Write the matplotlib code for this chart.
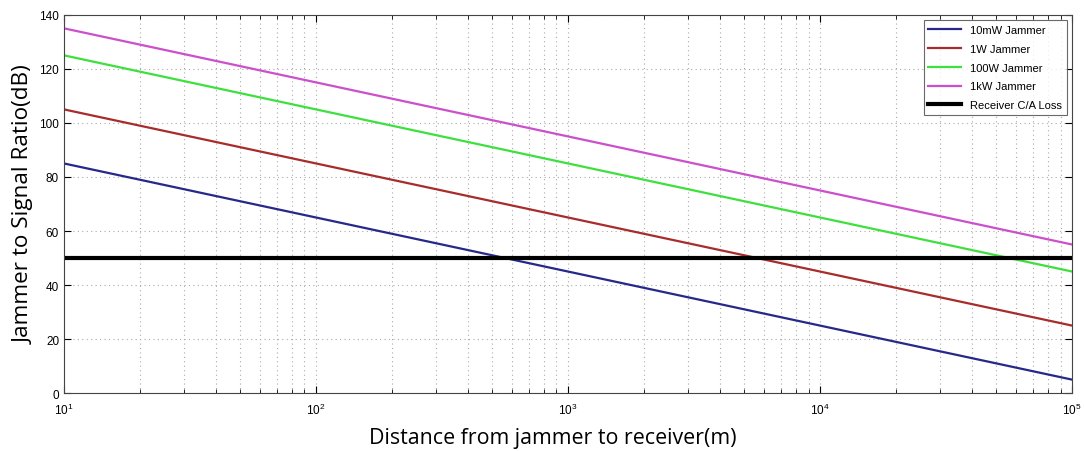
import numpy as np
import matplotlib
matplotlib.use("Agg")
import matplotlib.pyplot as plt
from matplotlib.ticker import LogLocator

# Distance endpoints (m) and J/S values (dB) at those endpoints
distance = [10, 100000]
js_10mw = [85, 5]
js_1w = [105, 25]
js_100w = [125, 45]
js_1kw = [135, 55]
ca_loss = [50, 50]

series = [
    ("10mW Jammer", js_10mw, "#27288a"),
    ("1W Jammer", js_1w, "#a82c2c"),
    ("100W Jammer", js_100w, "#3ee03e"),
    ("1kW Jammer", js_1kw, "#cc4fcc"),
]

fig = plt.figure(figsize=(10.84, 4.52), dpi=100)
ax = fig.add_axes([0.059, 0.128, 0.930, 0.837])

for label, vals, col in series:
    ax.plot(distance, vals, color=col, lw=1.6, label=label)
ax.plot(distance, ca_loss, color="black", lw=3.0, label="Receiver C/A Loss")

ax.set_xscale("log")
ax.set_xlim(10, 1e5)
ax.set_ylim(0, 140)
ax.set_yticks(np.arange(0, 141, 20))
ax.xaxis.set_major_locator(LogLocator(base=10, numticks=10))
ax.xaxis.set_minor_locator(LogLocator(base=10, subs=np.arange(2, 10), numticks=20))

ax.grid(True, which="major", axis="both", ls=(0, (1, 3)), color="#aaaaaa", lw=0.8)
ax.grid(True, which="minor", axis="x", ls=(0, (1, 3)), color="#aaaaaa", lw=0.8)
ax.tick_params(which="both", direction="in", top=True, right=True, labelsize=8.5)
ax.tick_params(which="major", length=5)
ax.tick_params(which="minor", length=3)
ax.tick_params(axis="x", pad=6)
for lab in ax.get_xticklabels() + ax.get_yticklabels():
    lab.set_fontfamily("Liberation Sans")
for s in ax.spines.values():
    s.set_color("#444444")

ax.set_xlabel("Distance from jammer to receiver(m)", fontsize=15.4, family="Open Sans", va="center")
ax.xaxis.set_label_coords(0.485, -0.118)
ax.set_ylabel("Jammer to Signal Ratio(dB)", fontsize=16.2, family="Open Sans", labelpad=3)

leg = ax.legend(loc="upper right", prop={"family": "Liberation Sans", "size": 8},
                frameon=True, fancybox=False, edgecolor="#444444",
                handlelength=3.0, borderaxespad=0.5, labelspacing=0.8)
leg.get_frame().set_linewidth(0.8)

fig.savefig("out.png", dpi=100)
